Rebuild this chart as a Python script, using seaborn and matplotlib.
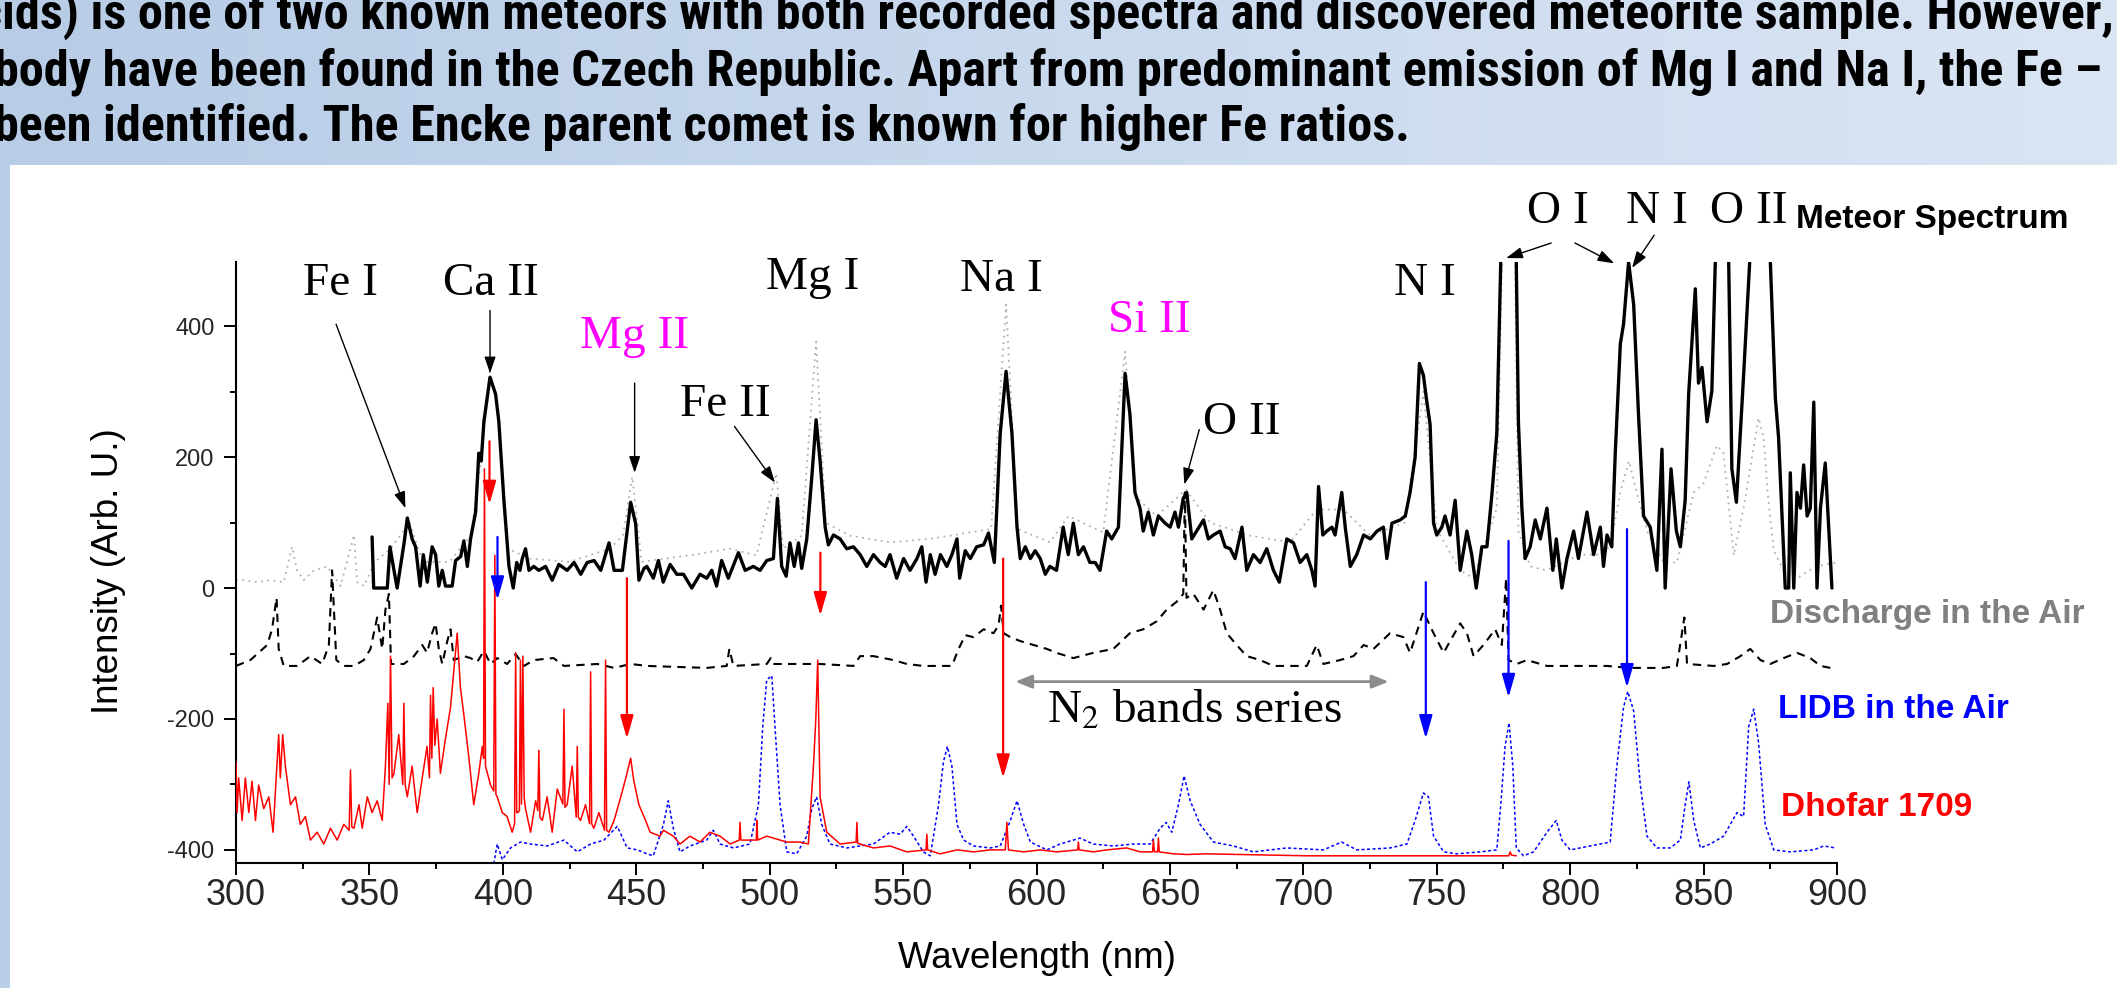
import numpy as np
import pandas as pd
import matplotlib
matplotlib.use("Agg")
import matplotlib.pyplot as plt
import seaborn as sns
from matplotlib import font_manager as fm
from matplotlib.colors import LinearSegmentedColormap
from matplotlib.patches import Rectangle

# ---------------- data ----------------
header_lines = [
    "cids) is one of two known meteors with both recorded spectra and discovered meteorite sample. However,",
    "body have been found in the Czech Republic. Apart from predominant emission of Mg I and Na I, the Fe \u2013",
    "been identified. The Encke parent comet is known for higher Fe ratios.",
]

meteor_nm = [351, 351.6, 356.7, 357.7, 359.2, 360.4, 363, 364.2, 366, 367.3, 369, 370.2, 371.7, 373.5, 374.8, 376,
             377.3, 378.5, 381, 382.3, 384.2, 385.4, 386.7, 387.9, 389.8, 391, 391.9, 392.9, 395.2, 397.3, 398.5,
             400.4, 402.3, 403.9, 405.2, 406.4, 407.3, 408.5, 409.8, 411.6, 413.5, 416, 418.5, 421, 424.1, 426.7,
             429.2, 431.6, 434.2, 436.7, 439.8, 441.7, 444.8, 447.9, 449.8, 451, 452.9, 454, 456.4, 458.3, 460.1,
             462.7, 465.2, 467.7, 470.8, 473.9, 476.4, 478.3, 480.1, 482, 484.5, 488.3, 490.8, 493.9, 496.4, 498.9,
             501.4, 502.9, 504.5, 506.2, 507.6, 509.2, 510.8, 512, 513.9, 515.8, 517.4, 518.9, 520.8, 522, 523.9,
             526.4, 528.9, 531.4, 533.9, 536.4, 538.9, 541.4, 543.3, 545.1, 547.6, 550.2, 552.6, 555.2, 557, 558.6,
             560.2, 562, 564, 566.4, 568.3, 570.2, 571.2, 573.3, 575.2, 577.6, 580.2, 582, 584.2, 586.4, 588.6,
             590.8, 592.7, 593.9, 595.8, 597.7, 599.5, 601.4, 603.3, 605, 607.5, 610, 611.9, 613.8, 615.7, 617.6,
             620, 622, 623.8, 626.3, 628.2, 630.7, 631.9, 633.2, 635, 636.9, 638.8, 640, 641.9, 643.8, 645.7, 648.2,
             650.1, 651.9, 653.2, 655, 656.3, 658.2, 660, 662.6, 664.4, 666.3, 668.8, 670.7, 672.6, 674.4, 677,
             678.8, 681.3, 683.8, 686.3, 688.8, 691, 693.8, 696.3, 698.8, 701.3, 703.2, 704.4, 705.7, 707.3, 708.8,
             710.7, 711.9, 714.4, 715.7, 717.6, 720, 722.6, 725.1, 727.6, 730, 731.3, 733.2, 736.3, 738.2, 740,
             741.9, 743.5, 745, 746.3, 747.5, 748.8, 750, 751.9, 753.1, 755, 756.9, 758.8, 761.3, 763.1, 764.8,
             766.9, 768.8, 770.6, 772.5, 774, 775, 779, 779.8, 780.6, 781.9, 783.1, 785, 786.9, 788.8, 791.3,
             793.5, 794.8, 796.9, 798.8, 801.3, 803.1, 806.3, 808.8, 811.3, 812.5, 813.8, 815.6, 816.9, 818.8, 820,
             821.9, 823.8, 825.6, 827.5, 830, 832.5, 834.4, 835.6, 837.8, 839.8, 841.3, 843.1, 844.4, 846.9, 848.1,
             849.4, 851.3, 853.1, 854.4, 856, 859.4, 860.6, 862.3, 865, 867.3, 871, 875, 876.9, 878.1, 880.6, 881.9,
             882.5, 883.8, 885, 886.3, 887.5, 888.8, 890, 891.3, 892.5, 893.8, 895.6, 898.1]
meteor_val = [78, 0, 0, 63, 27, 0, 69, 107, 75, 63, 3, 51, 9, 63, 51, 3,
              27, 3, 3, 42, 48, 72, 33, 75, 116, 206, 194, 254, 322, 296, 254,
              134, 33, 0, 39, 27, 45, 60, 27, 33, 27, 33, 12, 36, 27, 39,
              21, 39, 42, 27, 69, 27, 27, 131, 98, 12, 30, 33, 15, 42, 9,
              36, 21, 21, 0, 21, 15, 27, 3, 42, 15, 54, 27, 33, 27, 42,
              45, 137, 33, 18, 69, 33, 69, 30, 75, 170, 257, 194, 93, 66, 81,
              75, 60, 63, 51, 33, 51, 39, 33, 51, 15, 45, 27, 45, 63, 9,
              51, 21, 51, 33, 51, 75, 15, 57, 45, 63, 66, 84, 39, 236, 331,
              236, 93, 45, 63, 45, 57, 45, 21, 33, 27, 93, 51, 99, 51, 63,
              39, 39, 27, 87, 75, 93, 206, 328, 266, 146, 122, 87, 116, 81, 110, 99,
              93, 116, 93, 137, 146, 75, 87, 104, 75, 81, 87, 63, 60, 45, 93,
              27, 51, 39, 60, 27, 9, 75, 69, 39, 51, 27, 3, 155, 81, 87,
              93, 81, 146, 93, 33, 51, 81, 75, 87, 93, 45, 99, 104, 110, 146,
              200, 343, 325, 284, 250, 99, 81, 93, 110, 81, 134, 27, 87, 51, 0,
              63, 63, 140, 236, 500, 600, 600, 500, 254, 122, 45, 63, 104, 75, 122,
              27, 75, 0, 45, 87, 45, 116, 51, 93, 33, 81, 63, 206, 373, 403,
              498, 433, 266, 110, 93, 27, 212, 0, 182, 87, 63, 134, 296, 457, 313,
              337, 254, 301, 500, 600, 500, 182, 131, 325, 500, 600, 500, 290, 230, 0, 0,
              176, 0, 146, 122, 188, 110, 122, 284, 0, 122, 191, 0]

meteor2_nm = [300, 302.9, 307.9, 312.9, 317.9, 321, 322.9, 325.4, 329.2, 334.2, 339.2, 344.2, 345.4, 348, 352,
              358, 365, 370, 380, 388, 392, 395, 398, 402, 410, 425, 440, 445, 448.5, 452, 470, 485, 495, 502.5,
              505, 512, 517.4, 521, 530, 545, 560, 575, 583, 588.6, 593, 605, 612, 625, 633.2, 637, 645, 656,
              665, 680, 695, 705, 715, 725, 738, 745, 750, 758.8, 763.8, 772.5, 775, 779, 780.6, 785, 791, 797.5,
              803.8, 810, 815, 818.8, 822, 825, 828.8, 835, 840, 846.3, 850, 855, 857.5, 861.3, 865, 870.6, 872.5,
              874, 876.3, 880, 885, 892, 900]
meteor2_val = [12, 12, 9, 12, 9, 63, 27, 12, 27, 33, 3, 81, 9, 3, 40,
               60, 100, 40, 40, 80, 200, 330, 280, 60, 45, 40, 60, 80, 170, 40, 50, 60, 50, 175,
               60, 80, 376, 100, 80, 70, 75, 85, 90, 433, 90, 70, 110, 85, 361, 140, 110, 150,
               100, 80, 70, 120, 120, 80, 100, 300, 90, 27, 15, 122, 600, 600, 87, 33, 27, 39,
               51, 51, 63, 146, 194, 146, 87, 39, 39, 146, 160, 218, 206, 50, 122, 260, 230,
               146, 57, 27, 15, 33, 39]

discharge_nm = [300, 305.4, 309.2, 311.7, 313.5, 315.2, 316, 317.9, 322.9, 327.9, 332.3, 334.8, 336, 337.6, 340.4,
                344.2, 347.9, 350.4, 352.9, 354.8, 356, 357.3, 358.1, 362.9, 366.7, 369.8, 371.6, 373.5, 374.8,
                376, 377.3, 379.2, 380.4, 381.6, 385.4, 387.9, 390.4, 392.9, 395.4, 397.9, 401.6, 404.8, 407.9,
                411.7, 419, 422.9, 435.4, 441.7, 447.9, 454.2, 476.4, 483.9, 484.9, 486.4, 498.9, 500.4, 501.4,
                518.9, 531.4, 533.9, 538.9, 546.4, 551.4, 557.6, 568.3, 570.8, 573.3, 576.4, 580.2, 583.9, 585.8,
                586.7, 587.7, 590.2, 593.9, 598.9, 603.9, 607.5, 613.8, 621.3, 628.8, 635, 640, 645, 648.8, 652.5,
                655, 655.6, 656.2, 658.8, 662.6, 666.3, 668.8, 671.3, 675, 678.8, 683.8, 688.8, 701.3, 705, 707.5,
                713.8, 718.8, 722.6, 726.3, 732.5, 737.5, 740, 745, 748.8, 752.6, 755, 758.8, 761.3, 763.8, 767.5,
                771.9, 774.4, 776, 776.9, 780, 783.8, 791.3, 803.8, 813.8, 822.5, 835, 840, 842.8, 843.8, 853.8,
                858.8, 863.8, 867.5, 871.3, 875, 880, 885, 890, 893.8, 897.5]
discharge_val = [-119, -110, -96, -87, -63, -15, -93, -119, -119, -104, -116, -87, 27, -110, -119,
                 -119, -110, -93, -45, -93, -33, -9, -116, -116, -104, -87, -99, -69, -54,
                 -93, -116, -81, -63, -110, -104, -107, -113, -96, -116, -107, -116, -101, -119,
                 -110, -107, -119, -116, -122, -116, -119, -122, -119, -93, -119, -116, -107, -116,
                 -116, -119, -104, -104, -110, -116, -119, -119, -93, -72, -75, -63, -69, -57,
                 -27, -69, -75, -81, -87, -93, -99, -107, -99, -93, -69, -63, -51, -33, -21,
                 -9, 146, -15, -9, -33, -3, -33, -69, -87, -104, -110, -119, -119, -87, -116,
                 -110, -104, -87, -93, -69, -75, -99, -36, -69, -99, -81, -54, -69, -104, -87,
                 -63, -87, 15, -110, -116, -110, -119, -119, -119, -122, -122, -119, -45, -116, -119,
                 -116, -104, -93, -110, -116, -107, -99, -107, -119, -122]

lidb_nm = [396.6, 397.9, 399.8, 402.9, 406.6, 410.4, 416.6, 422.9, 427.9, 432.9, 437.9, 442.9, 446.6, 450.4, 454,
           456.4, 460.2, 462, 463.9, 466.4, 470.1, 476.4, 478.9, 481.4, 486.4, 492.6, 495.8, 497.4, 498.9, 500.8,
           502, 503.9, 506.4, 510.1, 513.9, 515.8, 517.6, 519.5, 522.6, 528.9, 538.9, 545.1, 548.9, 551.4, 553.9,
           557.6, 560.2, 563.3, 565.1, 566.6, 568.3, 570.2, 572.7, 576.4, 582.6, 586.4, 590.2, 592.7, 595.2, 597.7,
           603.9, 608.8, 616.3, 621.3, 628.8, 636.3, 642.6, 646.3, 648.6, 650.7, 653.2, 655.3, 657.6, 661.3, 666.3,
           673.8, 681.3, 693.8, 707.5, 714.4, 720, 732.5, 738.8, 741.9, 745, 746.9, 748.8, 752.6, 757.5, 766.3,
           772.5, 774, 775.6, 777.1, 778.5, 779.8, 782.5, 786.3, 791.3, 794.8, 796.9, 800, 807.5, 815, 817.5, 820,
           821.6, 823.8, 826.3, 828.8, 832.5, 837.5, 841.3, 843.1, 844.5, 846.3, 848.8, 852.5, 857.5, 862.5, 865,
           866.9, 868.8, 870.6, 873.1, 876.3, 882.5, 891.3, 895, 899.4]
lidb_val = [-421, -391, -415, -397, -388, -391, -394, -385, -403, -391, -385, -364, -397, -400, -406,
            -409, -361, -325, -367, -403, -394, -385, -370, -391, -397, -391, -331, -212, -140, -134,
            -212, -331, -403, -406, -379, -337, -319, -361, -391, -397, -391, -373, -376, -364, -379,
            -403, -409, -331, -266, -242, -272, -361, -385, -394, -397, -394, -355, -325, -361, -388,
            -400, -391, -382, -391, -394, -391, -391, -367, -358, -373, -331, -287, -325, -361, -388,
            -394, -403, -397, -400, -388, -400, -397, -391, -355, -313, -319, -379, -403, -406, -403,
            -400, -331, -242, -206, -272, -397, -409, -403, -373, -355, -385, -400, -394, -388, -272, -182,
            -158, -188, -301, -379, -397, -397, -385, -331, -296, -355, -397, -391, -379, -343, -349,
            -212, -185, -236, -361, -400, -403, -400, -394, -397]

dhofar_nm = [300, 300.4, 301, 302.3, 303.5, 304.8, 306, 307.3, 308.5, 310.4, 312.3, 313.9, 315.4, 316, 316.6,
             317.5, 318.5, 320.4, 322.3, 324.1, 326, 327.9, 330.4, 332.9, 335.4, 337.9, 340.4, 342.4, 342.9, 343.4,
             344.2, 346.1, 347.3, 349.2, 351, 352.9, 354.8, 356, 356.9, 357.4, 357.9, 358.5, 359.2, 361, 362.5,
             362.9, 363.4, 364.2, 366, 367.9, 369.8, 371.6, 372.5, 372.9, 373.4, 373.9, 374.5, 375.4, 376.6, 378.5,
             380.4, 381.6, 382.9, 384.1, 385.4, 387.3, 389.1, 391, 392.3, 392.8, 393.1, 393.5, 395.4, 396.6, 397,
             397.4, 397.9, 399.8, 401.6, 403.5, 404.4, 404.8, 405.2, 405.6, 406.2, 406.6, 407, 407.5, 408, 408.5,
             410.4, 412.3, 413.1, 413.5, 413.9, 414.8, 416.6, 418.5, 420.4, 422.5, 422.9, 423.3, 424.1, 426, 427.5,
             427.9, 428.3, 429.1, 431, 432.5, 432.9, 433.3, 434.1, 436, 438.1, 438.5, 438.9, 439.8, 441.7, 444.2,
             446.1, 447.9, 449.1, 451, 453.5, 455.2, 458.9, 460.2, 463.9, 466.4, 470.1, 473.9, 477.6, 481.4, 485.2,
             488.6, 488.9, 489.2, 495, 495.2, 495.5, 498.9, 501.4, 506.4, 511.4, 514.5, 516.4, 517.3, 518, 518.9,
             521.4, 526.4, 532.4, 532.7, 533, 538.9, 545.1, 551.4, 558.6, 558.9, 559.2, 563.9, 570.2, 576.4, 582.6,
             588.3, 588.9, 589.5, 595.2, 601.4, 607.6, 615.4, 615.7, 616, 621.3, 626.3, 633.8, 638.8, 643.5, 643.8,
             644.2, 645.4, 645.7, 646, 651.3, 656.3, 663.8, 676.3, 701.3, 726.3, 757.6, 777, 777.5, 778, 779.8]
dhofar_val = [-266, -343, -290, -355, -290, -343, -295, -355, -301, -337, -319, -373, -266, -224, -290,
              -224, -272, -331, -319, -361, -349, -385, -373, -391, -367, -385, -361, -370, -278, -365,
              -367, -331, -367, -319, -343, -325, -355, -272, -176, -300, -104, -290, -283, -224, -300,
              -176, -300, -319, -272, -343, -290, -242, -290, -164, -260, -152, -240, -200, -283, -230,
              -182, -128, -69, -152, -194, -260, -331, -283, -242, -260, 182, -272, -301, -310, 50,
              -315, -319, -343, -349, -373, -360, -99, -343, -343, -340, -110, -330, -104, -320, -337,
              -373, -325, -340, -248, -350, -355, -319, -373, -307, -330, -185, -335, -331, -272, -350,
              -242, -350, -355, -331, -360, -128, -360, -367, -343, -370, -110, -370, -373, -355, -319,
              -290, -260, -295, -331, -355, -373, -379, -370, -379, -391, -379, -388, -373, -379, -391,
              -385, -358, -385, -385, -355, -385, -379, -382, -388, -388, -391, -272, -200, -110, -319,
              -373, -391, -388, -358, -390, -397, -394, -403, -400, -376, -400, -406, -400, -403, -400,
              -400, -358, -400, -403, -400, -403, -400, -388, -400, -403, -400, -397, -403, -403, -385,
              -403, -403, -382, -403, -406, -407, -406, -407, -409, -409, -409, -409, -403, -408, -409]

# line identifications: text, x (nm), baseline y, colour
line_labels = ["Fe I", "Ca II", "Mg II", "Fe II", "Mg I", "Na I", "Si II", "O II", "N I", "O I", "N I", "O II"]
line_label_x = [339, 395.7, 449.3, 483.3, 516, 587, 642.2, 677, 745.7, 795.5, 832.5, 866.8]
line_label_y = [448, 448, 367, 263, 457, 454, 391, 236, 448, 558, 558, 558]
line_label_color = ["black", "black", "#ff00ff", "black", "black", "black", "#ff00ff", "black", "black",
                    "black", "black", "black"]

# thin black pointer arrows: (x0, y0) -> (x1, y1)
ptr_x0 = [337.5, 395.2, 449.4, 486.8, 661.0, 792.9, 801.8, 831.5]
ptr_y0 = [403, 424, 313, 247, 242, 527, 527, 539]
ptr_x1 = [363.5, 395.2, 449.4, 502.0, 655.4, 776.0, 816.5, 823.2]
ptr_y1 = [122, 328, 176, 161, 158, 504, 496, 489]

# vertical coloured arrows
red_arrow_x = [395.0, 446.5, 519.0, 587.5]
red_arrow_y0 = [224, 15, 54, 45]
red_arrow_y1 = [128, -230, -42, -290]
blue_arrow_x = [398.0, 745.9, 776.9, 821.3]
blue_arrow_y0 = [78, 9, 72, 90]
blue_arrow_y1 = [-18, -230, -167, -152]

series_names = ["Meteor Spectrum", "Discharge in the Air", "LIDB in the Air", "Dhofar 1709"]
series_colors = ["black", "#808080", "#0000ff", "#ff0000"]
series_label_x = [884.7, 874.9, 877.9, 879.1]
series_label_y = [550, -53, -198, -348]

# ---------------- figure ----------------
sns.set_theme(style="ticks")
plt.rcParams["font.family"] = ["Liberation Sans", "DejaVu Sans"]
plt.rcParams["mathtext.fontset"] = "stix"
plt.rcParams["axes.unicode_minus"] = False

W, H = 2117, 988
fig = plt.figure(figsize=(W / 100, H / 100), dpi=100)
fig.patch.set_facecolor("white")

# slide background (header band + left strip)
bg = fig.add_axes([0, 0, 1, 1], zorder=-10)
bg.set_xlim(0, W)
bg.set_ylim(H, 0)
bg.axis("off")
cmap = LinearSegmentedColormap.from_list("hdr", ["#b8cce6", "#c9d9ee", "#dae5f3"])
bg.imshow(np.linspace(0, 1, 256)[None, :], extent=[0, W, 165, 0], aspect="auto", cmap=cmap)
bg.add_patch(Rectangle((0, 165), 10, H - 165, color="#bacee8", lw=0))


def pick_font(names):
    for n in names:
        try:
            fm.findfont(fm.FontProperties(family=n), fallback_to_default=False)
            return n
        except Exception:
            continue
    return "DejaVu Sans"


hfam = pick_font(["Liberation Sans Narrow", "Roboto Condensed", "Open Sans Condensed", "Roboto", "Open Sans"])
htexts = []
hbase = [29, 85, 141]
for i, line in enumerate(header_lines):
    t = fig.text(0, 1 - hbase[i] / H, line, fontsize=24, fontweight="bold", family=[hfam, "DejaVu Sans"],
                 ha="left", va="baseline", color="black")
    htexts.append(t)
fig.canvas.draw()
r = fig.canvas.get_renderer()
w2 = htexts[1].get_window_extent(r).width
hsize = 24 * 2116 / w2
for i, t in enumerate(htexts):
    t.set_fontsize(hsize)
htexts[0].set_ha("right")
htexts[0].set_x(2114 / W)
htexts[1].set_x(-6 / W)
htexts[2].set_x(-6 / W)

# main axes
ax = fig.add_axes([236 / W, 1 - 863 / H, (1837 - 236) / W, (863 - 262) / H])
ax.patch.set_alpha(0)

sns.lineplot(x=meteor2_nm, y=meteor2_val, ax=ax, color="#b0b0b0", lw=1.3, linestyle=(0, (1, 2.5)),
             estimator=None, sort=False, zorder=1)
sns.lineplot(x=discharge_nm, y=discharge_val, ax=ax, color="black", lw=1.5, linestyle=(0, (4, 3)),
             estimator=None, sort=False, zorder=2)
sns.lineplot(x=lidb_nm, y=lidb_val, ax=ax, color="#0000ff", lw=1.1, linestyle=(0, (2, 1.6)),
             estimator=None, sort=False, zorder=2)
sns.lineplot(x=dhofar_nm, y=dhofar_val, ax=ax, color="#ff0000", lw=1.1, estimator=None, sort=False, zorder=3)
sns.lineplot(x=meteor_nm, y=meteor_val, ax=ax, color="black", lw=2.4, estimator=None, sort=False, zorder=4)

ax.set_xlim(300, 900)
ax.set_ylim(-420, 498)
ax.set_xticks(np.arange(300, 901, 50))
ax.set_xticks(np.arange(325, 900, 50), minor=True)
ax.set_yticks([-400, -200, 0, 200, 400])
ax.set_yticks([-300, -100, 100, 300], minor=True)
ax.tick_params(axis="x", which="major", direction="out", length=8.5, width=1.4, labelsize=26, pad=2, color="black")
ax.tick_params(axis="x", which="minor", direction="out", length=4.5, width=1.4, color="black")
ax.tick_params(axis="y", which="major", direction="out", length=8.5, width=1.4, labelsize=17, pad=7, color="black")
ax.tick_params(axis="y", which="minor", direction="out", length=4.5, width=1.4, color="black")
for s in ["top", "right"]:
    ax.spines[s].set_visible(False)
for s in ["left", "bottom"]:
    ax.spines[s].set_color("black")
    ax.spines[s].set_linewidth(1.5)
ax.set_xlabel("Wavelength (nm)", fontsize=26.5, color="black")
ax.set_ylabel("Intensity (Arb. U.)", fontsize=26.5, color="black")
ax.xaxis.set_label_coords(0.5, -0.130)
ax.yaxis.set_label_coords(-0.069, 0.485)

serif = ["Liberation Serif", "DejaVu Serif"]
for txt, x, y, c in zip(line_labels, line_label_x, line_label_y, line_label_color):
    ax.text(x, y, txt, fontsize=34, family=serif, color=c, ha="center", va="baseline", clip_on=False)
ax.text(603.8, -206, r"N$_2$ bands series", fontsize=34, family=serif, color="black", ha="left",
        va="baseline", clip_on=False)
ax.annotate("", xy=(732, -143), xytext=(592, -143),
            arrowprops=dict(arrowstyle="<|-|>,head_length=0.5,head_width=0.2", color="#8c8c8c", lw=2,
                            shrinkA=0, shrinkB=0, mutation_scale=20))

for x0, y0, x1, y1 in zip(ptr_x0, ptr_y0, ptr_x1, ptr_y1):
    ax.annotate("", xy=(x1, y1), xytext=(x0, y0), annotation_clip=False,
                arrowprops=dict(arrowstyle="-|>,head_length=0.5,head_width=0.17", color="black", lw=1.0,
                                shrinkA=0, shrinkB=0, mutation_scale=20))
for x, y0, y1 in zip(red_arrow_x, red_arrow_y0, red_arrow_y1):
    ax.annotate("", xy=(x, y1), xytext=(x, y0), annotation_clip=False,
                arrowprops=dict(arrowstyle="-|>,head_length=0.7,head_width=0.2", color="#ff0000", lw=1.6,
                                shrinkA=0, shrinkB=0, mutation_scale=20), zorder=6)
for x, y0, y1 in zip(blue_arrow_x, blue_arrow_y0, blue_arrow_y1):
    ax.annotate("", xy=(x, y1), xytext=(x, y0), annotation_clip=False,
                arrowprops=dict(arrowstyle="-|>,head_length=0.7,head_width=0.2", color="#0000ff", lw=1.6,
                                shrinkA=0, shrinkB=0, mutation_scale=20), zorder=6)

for name, c, x, y in zip(series_names, series_colors, series_label_x, series_label_y):
    ax.text(x, y, name, fontsize=24, fontweight="bold", color=c, ha="left", va="baseline", clip_on=False)

fig.savefig("out.png", dpi=100, facecolor=fig.get_facecolor())
